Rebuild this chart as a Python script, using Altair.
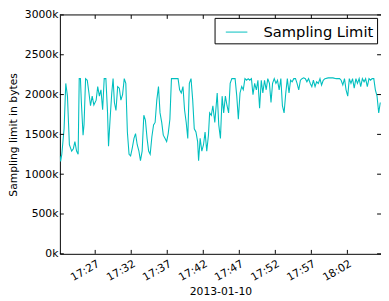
import altair as alt
import pandas as pd

# ---- data ----
date_str = "2013-01-10"
start_clock = "17:22:06"
series_name = "Sampling Limit"

# seconds elapsed since 17:22:06
secs = [0, 6, 16, 35, 49, 63, 79, 98, 112, 125, 139, 152, 161, 171, 179, 193, 201, 214, 228, 242,
        255, 269, 283, 302, 315, 329, 342, 356, 369, 383, 397, 405, 418, 432, 443,
        454, 467, 481, 495, 508, 522, 536, 549, 562, 576, 589, 603, 617, 630, 644, 658, 671, 685,
        699, 712, 726, 739, 752, 766, 780, 793, 807, 821, 834, 848, 861, 875, 889, 902, 916,
        929, 956, 984, 997, 1011, 1025, 1038, 1052, 1065, 1078, 1092, 1106, 1119, 1133, 1147,
        1155, 1168, 1182, 1196, 1209, 1223, 1237, 1247, 1261, 1274, 1290, 1310, 1323,
        1337, 1351, 1364, 1378, 1392, 1405, 1418, 1432, 1459, 1473, 1486, 1500, 1514, 1527,
        1541, 1555, 1568, 1581, 1595, 1608, 1622, 1636, 1649, 1663, 1677, 1690, 1704, 1718,
        1731, 1745, 1758, 1771, 1785, 1799,
        1812, 1826, 1840, 1853, 1867, 1881, 1894, 1908, 1921, 1934, 1948, 1962, 1975, 1989,
        2003, 2016, 2030, 2044, 2057, 2071, 2085, 2098, 2111, 2125, 2138, 2152, 2166, 2179,
        2193, 2207, 2234,
        2274, 2301, 2329, 2342, 2356, 2370, 2383, 2397, 2410, 2424, 2437, 2451, 2465, 2478,
        2492, 2505, 2519, 2533, 2546, 2560, 2574, 2587, 2600, 2614, 2627, 2641, 2655, 2668]

# sampling limit, in thousands of bytes
limit_k = [1230, 1160, 1250, 1570, 2140, 1980, 1370, 1290, 1320, 1410, 1290, 1250, 2200, 2200, 1900,
           1490, 1620, 2200, 2180, 2020, 1860, 1980, 1870, 1930, 2100, 1980, 2060, 1810, 2200,
           2200, 1770, 1350, 1690, 2020, 2200,
           1900, 1800, 2100, 2080, 1930, 2000, 2200, 2140, 1530, 1250, 1230, 1330, 1450, 1510,
           1370, 1290, 1170, 1290, 1740, 1680, 1450, 1290, 1250, 1470, 1620, 1650, 1930, 2100,
           1770, 1650, 1490, 1450, 1410, 1510, 1690,
           2200, 2200, 2200, 2060, 2020, 2100, 1810, 1650, 1450, 2140, 2200, 1930, 1570, 1530,
           1410, 1170, 1450, 1290, 1370, 1530, 1290, 1490, 1770, 1740, 1860, 1650, 2020, 1620,
           1450, 1980, 1770, 1980, 1860, 1770, 2140, 2200, 2200, 1980, 1690, 2020, 2100, 2060,
           2200, 2180, 2200, 2180, 2200, 2000, 2140, 2060, 2180, 1830, 2180, 2020, 2180, 2060,
           2200, 2140, 1900, 2140, 2200, 2140,
           2180, 2060, 2200, 1860, 1770, 2020, 2200, 2020, 2180, 2160, 2200, 2200, 2140, 2060,
           2180, 2200, 2210, 2200, 2160, 2200, 2140, 2100, 2180, 2100, 2160, 2140, 2200, 2120,
           2180, 2200, 2210,
           2210, 2200, 2200, 2180, 2120, 2200, 2060, 1980, 2200, 2140, 2200, 2080, 2200, 2140,
           2200, 2100, 2200, 2160, 2200, 2100, 2200, 2180, 2200, 2200, 2060, 1980, 1770, 1900]

x_tick_clock = ["17:27", "17:32", "17:37", "17:42", "17:47", "17:52", "17:57", "18:02"]
y_ticks_k = [0, 500, 1000, 1500, 2000, 2500, 3000]

# ---- build tables ----
base = pd.Timestamp(f"{date_str} {start_clock}")
df = pd.DataFrame({
    "time": [(base + pd.Timedelta(seconds=s)).strftime("%Y-%m-%dT%H:%M:%S") for s in secs],
    "value": limit_k,
    "series": series_name,
})
xt_df = pd.DataFrame({"time": [f"{date_str}T{c}:00" for c in x_tick_clock]})
yt_df = pd.DataFrame({"value": y_ticks_k})


def dt(h, m, s=0):
    return alt.DateTime(year=2013, month=1, date=10, hours=h, minutes=m, seconds=s)


W, H = 328, 244
TL = 4
FONT = "DejaVu Sans"
CYAN = "#00BFBF"
X_TITLE = date_str
Y_TITLE = "Sampling limit in bytes"

xscale = alt.Scale(domain=[dt(17, 22, 6), dt(18, 6, 40)])
yscale = alt.Scale(domain=[0, 3000], nice=False, zero=True)

x_vals = [dt(int(c[:2]), int(c[3:])) for c in x_tick_clock]

line = alt.Chart(df).mark_line(strokeWidth=1.1, clip=True).encode(
    x=alt.X("time:T", scale=xscale, title=X_TITLE,
            axis=alt.Axis(values=x_vals, format="%H:%M", labelAngle=330,
                          labelAlign="right", labelBaseline="top", labelPadding=4,
                          titlePadding=3, ticks=False, grid=False)),
    y=alt.Y("value:Q", scale=yscale, title=Y_TITLE,
            axis=alt.Axis(values=y_ticks_k, labelExpr="datum.value + 'k'",
                          labelPadding=2, titlePadding=6, ticks=False, grid=False)),
    color=alt.Color("series:N", scale=alt.Scale(range=[CYAN]),
                    legend=alt.Legend(title=None, orient="none", legendX=158, legendY=3,
                                      fillColor="white", strokeColor="black", padding=3,
                                      cornerRadius=0, labelFontSize=15, labelFont=FONT,
                                      labelColor="black", symbolType="stroke",
                                      symbolSize=484, symbolStrokeWidth=1,
                                      symbolOffset=8, labelOffset=16)),
)

bottom_ticks = alt.Chart(xt_df).mark_rule(color="black", strokeWidth=1).encode(
    x=alt.X("time:T", scale=xscale, title=X_TITLE), y=alt.value(H - TL), y2=alt.value(H))
top_ticks = alt.Chart(xt_df).mark_rule(color="black", strokeWidth=1).encode(
    x=alt.X("time:T", scale=xscale, title=X_TITLE), y=alt.value(0), y2=alt.value(TL))
left_ticks = alt.Chart(yt_df).mark_rule(color="black", strokeWidth=1).encode(
    y=alt.Y("value:Q", scale=yscale, title=Y_TITLE), x=alt.value(0), x2=alt.value(TL))
right_ticks = alt.Chart(yt_df).mark_rule(color="black", strokeWidth=1).encode(
    y=alt.Y("value:Q", scale=yscale, title=Y_TITLE), x=alt.value(W - TL), x2=alt.value(W))
top_spine = alt.Chart(yt_df.head(1)).mark_rule(color="black", strokeWidth=1).encode(
    x=alt.value(0), x2=alt.value(W), y=alt.value(0))

chart = alt.layer(line, bottom_ticks, top_ticks, left_ticks, right_ticks, top_spine).properties(
    width=W, height=H,
    autosize=alt.AutoSizeParams(type="none"),
    padding={"left": 53, "top": 4, "right": 0, "bottom": 41},
).configure_view(stroke=None).configure_axis(
    labelFont=FONT, titleFont=FONT, labelFontSize=11, titleFontSize=11,
    labelColor="black", titleColor="black", titleFontWeight="normal",
    domainColor="black", domainWidth=1, ticks=False, grid=False,
)

chart.save("out.html", embed_options={"renderer": "svg", "actions": False})
